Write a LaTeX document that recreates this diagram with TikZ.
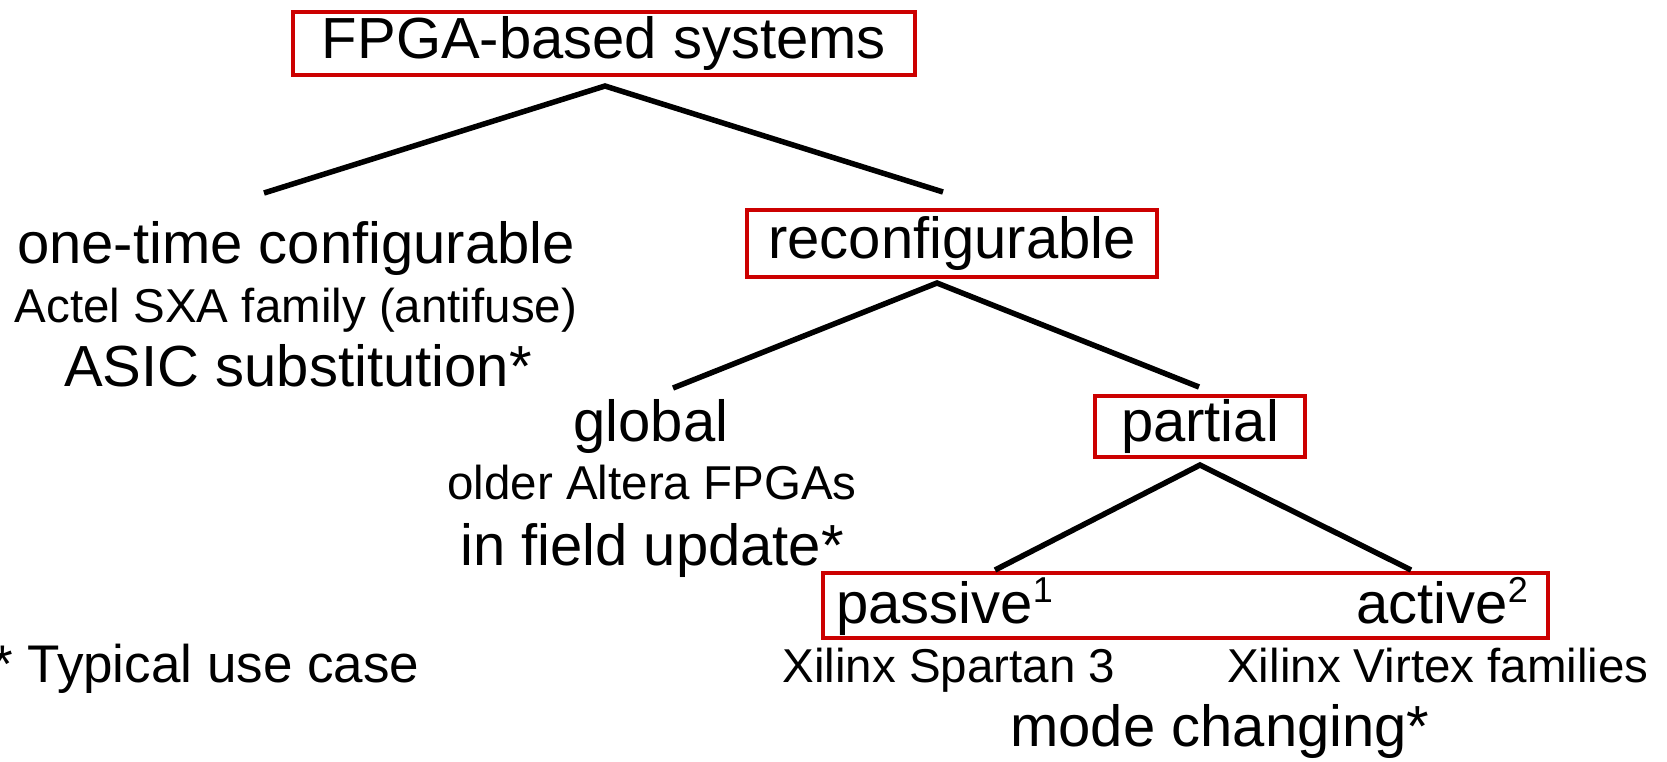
\documentclass[tikz,border=0pt]{standalone}
\usepackage{fontspec}
\setmainfont{Liberation Sans}
\definecolor{boxred}{RGB}{204,0,0}
\newcommand{\supnum}[1]{\raisebox{21pt}{\fontsize{36}{36}\selectfont #1}}
\begin{document}
\begin{tikzpicture}[x=1pt,y=-1pt,
  big/.style={font=\fontsize{58}{60}\selectfont, inner sep=0pt},
  small/.style={font=\fontsize{47.5}{50}\selectfont, inner sep=0pt},
  redbox/.style={draw=boxred, line width=3.5pt, inner sep=0pt, text height=42pt, text depth=12pt, font=\fontsize{58}{60}\selectfont},
  edge/.style={line width=5.5pt, line join=miter}]
\useasboundingbox (0,0) rectangle (1667,761);

% boxes
\node[redbox, minimum width=622pt, minimum height=63pt] (fpga) at (604,43.5) {FPGA-based systems};
\node[redbox, minimum width=410pt, minimum height=67pt] (reconf) at (952,243.5) {reconfigurable};
\node[redbox, minimum width=210pt, minimum height=61pt] (partial) at (1200,426.5) {partial};
\node[draw=boxred, line width=3.5pt, minimum width=725pt, minimum height=65pt, inner sep=0pt] (pa) at (1185.5,605.5) {};

% left branch texts
\node[big, anchor=base] (otc) at (296,263) {one-time configurable};
\node[small, anchor=base] (actel) at (296,322) {Actel SXA family (antifuse)};
\node[big, anchor=base] (asic) at (298,386) {ASIC substitution*};

% global texts
\node[big, anchor=base] (global) at (651,441) {global};
\node[small, anchor=base] (altera) at (652,499) {older Altera FPGAs};
\node[big, anchor=base] (field) at (652,565) {in field update*};

% passive / active
\node[big, anchor=base west] (passive) at (836,623) {passive\supnum{1}};
\node[big, anchor=base east] (active) at (1528,623) {active\supnum{2}};
\node[small, anchor=base] (spartan) at (949,682) {Xilinx Spartan 3};
\node[small, anchor=base] (virtex) at (1438,682) {Xilinx Virtex families};
\node[big, anchor=base] (mode) at (1220,746) {mode changing*};

% footnote
\node[inner sep=0pt, font=\fontsize{53}{55}\selectfont, anchor=base west] (note) at (-8,682) {* Typical use case};

% connectors
\coordinate (a1) at (605,86);
\coordinate (l1) at (264,193);
\coordinate (r1) at (943,192);
\coordinate (a2) at (937,283);
\coordinate (l2) at (673,388);
\coordinate (r2) at (1199,387);
\coordinate (a3) at (1200,465);
\coordinate (l3) at (995,570);
\coordinate (r3) at (1411,570);
\draw[edge] (l1) -- (a1) -- (r1);
\draw[edge] (l2) -- (a2) -- (r2);
\draw[edge] (l3) -- (a3) -- (r3);
\end{tikzpicture}
\end{document}
